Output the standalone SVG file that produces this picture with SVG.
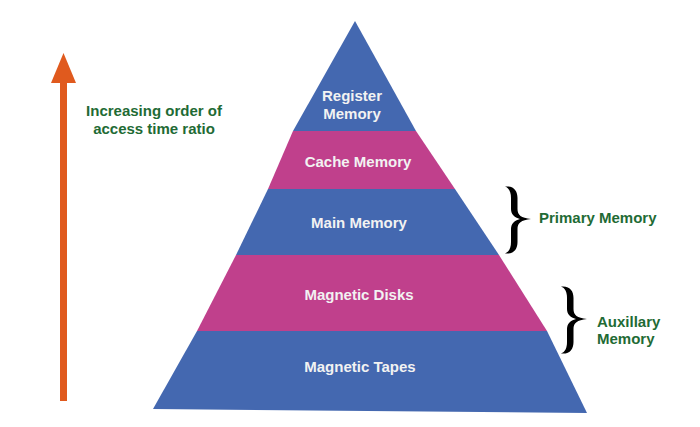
<svg xmlns="http://www.w3.org/2000/svg" width="700" height="427" viewBox="0 0 700 427">
<defs>
<style>
.blue{fill:#4468B0}
.pink{fill:#C0408C}
.lbl{font-family:"Liberation Sans",Arial,sans-serif;font-weight:bold;font-size:15px;fill:#F2F2F2;text-anchor:middle}
.note{font-family:"Liberation Sans",Arial,sans-serif;font-weight:bold;font-size:15px;fill:#1F6B35}
.brace{fill:#000}
</style>
<path id="bracePath" d="M0,0.5 C9,-0.5 12.5,5 12.5,12 L12.5,23 C12.5,29 16,32 26,33 C16,34 12.5,37 12.5,43 L12.5,56 C12.5,63 9,68.5 0,67.5 C4,66 6,62 6,56 L6,43 C6,38 9,34.5 15,33 C9,31.5 6,28 6,23 L6,12 C6,6 4,2 0,0.5 Z"/>
</defs>
<rect width="700" height="427" fill="#fff"/>
<g id="arrow">
<rect x="60" y="80" width="7" height="321" fill="#E05A1E"/>
<polygon points="63.5,53 76,83 51,83" fill="#E05A1E"/>
</g>
<g id="arrow-label">
<text class="note" x="154" y="116" text-anchor="middle">Increasing order of</text>
<text class="note" x="154" y="134" text-anchor="middle">access time ratio</text>
</g>
<g id="register">
<polygon class="blue" points="355,21 416,131 293,131"/>
<text class="lbl" x="352" y="101">Register</text>
<text class="lbl" x="352" y="119">Memory</text>
</g>
<g id="cache">
<polygon class="pink" points="293,131 416,131 455,189 268,189"/>
<text class="lbl" x="358" y="167">Cache Memory</text>
</g>
<g id="main">
<polygon class="blue" points="268,189 455,189 499,255 236,255"/>
<text class="lbl" x="359" y="228">Main Memory</text>
</g>
<g id="disks">
<polygon class="pink" points="236,255 499,255 547,331 197,331"/>
<text class="lbl" x="359" y="300">Magnetic Disks</text>
</g>
<g id="tapes">
<polygon class="blue" points="197,331 547,331 587,413 153,409"/>
<text class="lbl" x="360" y="372">Magnetic Tapes</text>
</g>
<g id="primary">
<use href="#bracePath" class="brace" transform="translate(505,186)"/>
<text class="note" x="539" y="222.5">Primary Memory</text>
</g>
<g id="auxillary">
<use href="#bracePath" class="brace" transform="translate(561,286)"/>
<text class="note" x="597" y="326.5">Auxillary</text>
<text class="note" x="597" y="344">Memory</text>
</g>
</svg>
